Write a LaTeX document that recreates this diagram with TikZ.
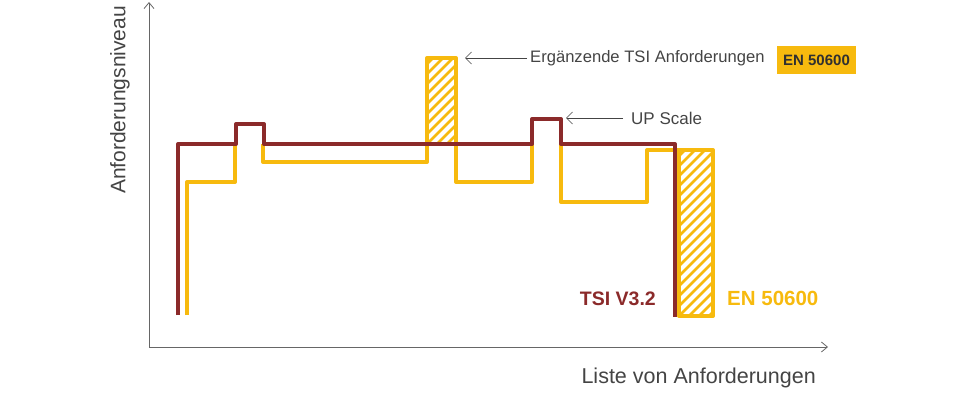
\documentclass[tikz,border=0pt]{standalone}
\usepackage{fontspec}
\setmainfont{Liberation Sans}
\usetikzlibrary{arrows.meta}
\definecolor{tsi}{HTML}{8B2A2A}
\definecolor{en}{HTML}{F7BA0E}
\definecolor{txt}{HTML}{444444}
\begin{document}
\begin{tikzpicture}[x=1pt,y=-1pt,
  tsiline/.style={tsi,line width=4pt,line join=round},
  enline/.style={en,line width=4pt,line join=round},
  axis/.style={gray!80!black,line width=0.8pt,-{Straight Barb[length=6pt,width=10pt]}},
  note/.style={txt,line width=0.7pt,-{Straight Barb[length=6pt,width=12pt]}},
  lbl/.style={txt,font=\fontsize{16.6}{16.6}\selectfont,inner sep=0pt}]
\useasboundingbox (0,0) rectangle (960,401);
\coordinate (o) at (149,347);
\coordinate (yt) at (149,2);
\coordinate (xr) at (828,347);
\draw[axis] (o) -- (yt);
\draw[axis] (o) -- (xr);
% hatched boxes
\foreach \xa/\ya/\xb/\yb in {427/58/456/144, 679/150/713/316}{
  \begin{scope}
  \clip (\xa,\ya) rectangle (\xb,\yb);
  \foreach \k in {-400,-390,...,200}
    \draw[en,line width=2.5pt] (\xa+\k,\yb) -- ++(400,-400);
  \end{scope}
}
\draw[enline] (187,315) -- (187,182) -- (235,182) -- (235,144);
\draw[enline] (263,144) -- (263,162) -- (427,162) -- (427,58) -- (456,58) -- (456,182) -- (532,182) -- (532,144);
\draw[enline] (561,144) -- (561,202) -- (647,202) -- (647,150) -- (713,150) -- (713,316) -- (679,316) -- (679,150);
\draw[tsiline] (178,315) -- (178,144) -- (236,144) -- (236,124) -- (264,124) -- (264,144) -- (532,144) -- (532,119) -- (561,119) -- (561,144) -- (675,144) -- (675,317);
\node[lbl,anchor=west] (erg) at (530,58) {Ergänzende TSI Anforderungen};
\coordinate (ergt) at (465,58);
\draw[note] (erg.west) ++(-3,0) -- (ergt);
\node[lbl,font=\fontsize{17}{17}\selectfont,anchor=west] (up) at (631,118) {UP Scale};
\coordinate (upt) at (566,118);
\draw[note] (up.west) ++(-8,0) -- (upt);
\node[fill=en,text=txt!70!black,font=\bfseries\fontsize{15}{15}\selectfont,minimum width=79pt,minimum height=28pt,inner sep=0pt] (leg) at (816.5,60) {EN 50600};
\node[tsi,font=\bfseries\fontsize{19.5}{19.5}\selectfont,anchor=east,inner sep=0pt] (tsil) at (656,299) {TSI V3.2};
\node[en,font=\bfseries\fontsize{20.5}{20.5}\selectfont,anchor=west,inner sep=0pt] (enl) at (727,298) {EN 50600};
\node[lbl,font=\fontsize{21.5}{21.5}\selectfont,anchor=east] (xl) at (816,378) {Liste von Anforderungen};
\node[lbl,font=\fontsize{21}{21}\selectfont,rotate=90] (yl) at (120,100) {Anforderungsniveau};
\end{tikzpicture}
\end{document}
